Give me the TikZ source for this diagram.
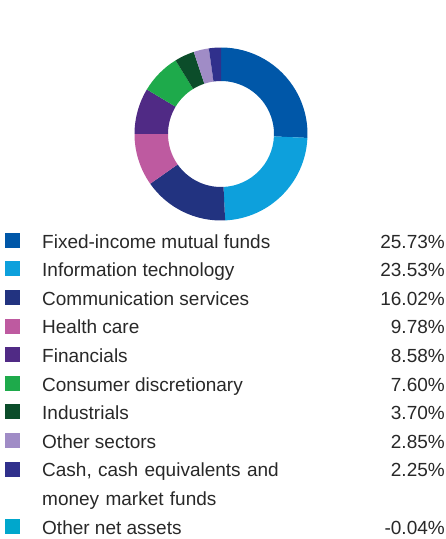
\documentclass[tikz,border=0pt]{standalone}
\usepackage{fontspec}
\setmainfont{Liberation Sans}
\usetikzlibrary{positioning}

\definecolor{fixedblue}{RGB}{0,87,168}
\definecolor{techblue}{RGB}{13,160,220}
\definecolor{commnavy}{RGB}{34,51,128}
\definecolor{healthpink}{RGB}{190,90,160}
\definecolor{finpurple}{RGB}{80,42,133}
\definecolor{consgreen}{RGB}{30,170,75}
\definecolor{indgreen}{RGB}{11,77,42}
\definecolor{otherlav}{RGB}{160,140,198}
\definecolor{cashindigo}{RGB}{48,48,140}
\definecolor{netteal}{RGB}{0,167,204}
\definecolor{legendtext}{RGB}{40,40,40}

\begin{document}
\begin{tikzpicture}[
    x=1pt, y=1pt,
    % Legend styles
    key/.style={rectangle, minimum size=15pt, inner sep=0pt, anchor=south west},
    label/.style={font=\fontsize{19}{28.6}\selectfont, text=legendtext, inner sep=0pt, anchor=base west},
    pct/.style={font=\fontsize{19}{28.6}\selectfont, text=legendtext, inner sep=0pt, anchor=base east}
]
\useasboundingbox (0,0) rectangle (446,-539);

% Donut chart
\begin{scope}[shift={(221,-134)}]
    \def\startang{90}
    \foreach \val/\col in {25.73/fixedblue, 23.53/techblue, 16.02/commnavy,
                           9.78/healthpink, 8.58/finpurple, 7.60/consgreen,
                           3.70/indgreen, 2.85/otherlav, 2.25/cashindigo}{
        \pgfmathsetmacro\endang{\startang-\val*360/100.04}
        \fill[\col] (\startang:86.5pt) arc[start angle=\startang, end angle=\endang, radius=86.5pt]
            -- (\endang:53pt) arc[start angle=\endang, end angle=\startang, radius=53pt] -- cycle;
        \xdef\startang{\endang}
    }
\end{scope}

% Legend
\node[key, fill=fixedblue] (keyfixed) at (5,-248) {};
\node[label] (lblfixed) at (42,-248) {Fixed-income mutual funds};
\node[pct] (pctfixed) at (445,-248) {25.73\%};

\node[key, fill=techblue] (keytech) at (5,-276.6) {};
\node[label] (lbltech) at (42,-276.6) {Information technology};
\node[pct] (pcttech) at (445,-276.6) {23.53\%};

\node[key, fill=commnavy] (keycomm) at (5,-305.2) {};
\node[label] (lblcomm) at (42,-305.2) {Communication services};
\node[pct] (pctcomm) at (445,-305.2) {16.02\%};

\node[key, fill=healthpink] (keyhealth) at (5,-333.8) {};
\node[label] (lblhealth) at (42,-333.8) {Health care};
\node[pct] (pcthealth) at (445,-333.8) {9.78\%};

\node[key, fill=finpurple] (keyfin) at (5,-362.4) {};
\node[label] (lblfin) at (42,-362.4) {Financials};
\node[pct] (pctfin) at (445,-362.4) {8.58\%};

\node[key, fill=consgreen] (keycons) at (5,-391) {};
\node[label] (lblcons) at (42,-391) {Consumer discretionary};
\node[pct] (pctcons) at (445,-391) {7.60\%};

\node[key, fill=indgreen] (keyind) at (5,-419.6) {};
\node[label] (lblind) at (42,-419.6) {Industrials};
\node[pct] (pctind) at (445,-419.6) {3.70\%};

\node[key, fill=otherlav] (keyother) at (5,-448.2) {};
\node[label] (lblother) at (42,-448.2) {Other sectors};
\node[pct] (pctother) at (445,-448.2) {2.85\%};

\node[key, fill=cashindigo] (keycash) at (5,-476.8) {};
\node[label, text width=300pt, align=left] (lblcash) at (42,-476.8) {Cash, cash equivalents and\\money market funds};
\node[pct] (pctcash) at (445,-476.8) {2.25\%};

\node[key, fill=netteal] (keynet) at (5,-534) {};
\node[label] (lblnet) at (42,-534) {Other net assets};
\node[pct] (pctnet) at (445,-534) {-0.04\%};

\end{tikzpicture}
\end{document}
